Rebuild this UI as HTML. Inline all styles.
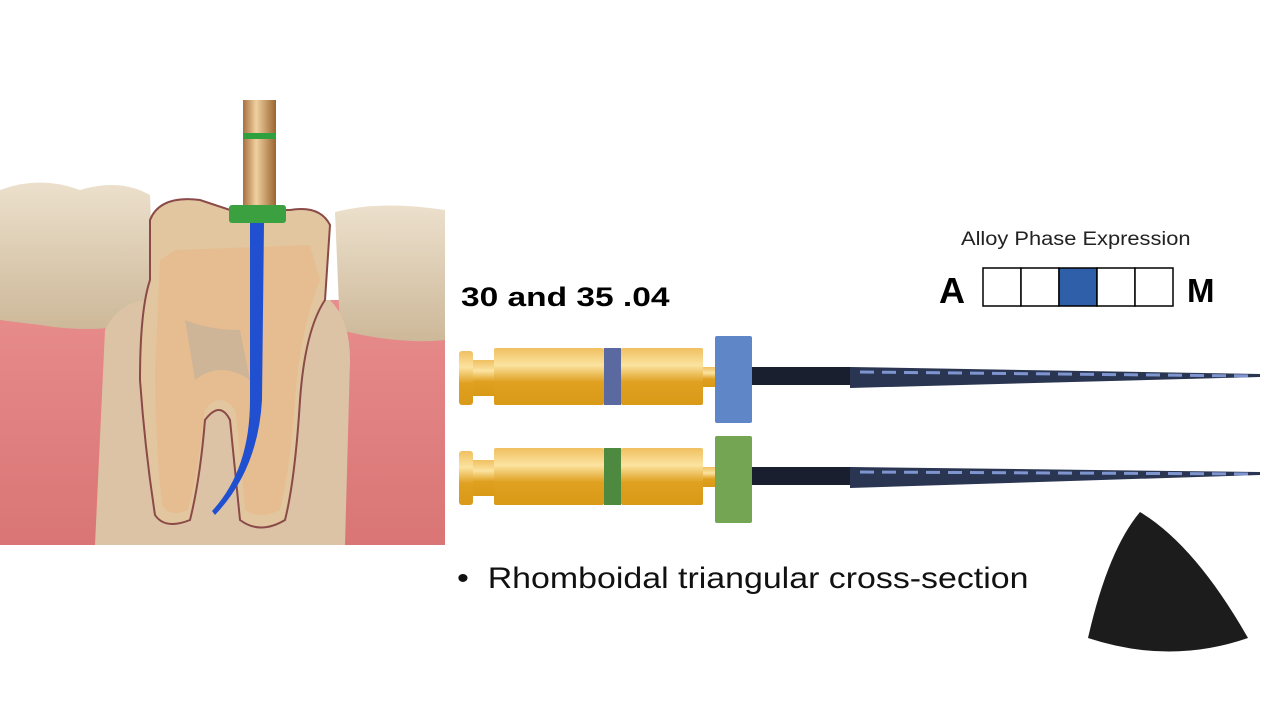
<!DOCTYPE html>
<html><head><meta charset="utf-8"><style>
body{margin:0;width:1280px;height:720px;background:#fff;overflow:hidden;position:relative;font-family:"Liberation Sans",sans-serif}
.t{position:absolute;white-space:nowrap;transform-origin:0 0}
</style></head><body>
<svg width="1280" height="720" style="position:absolute;left:0;top:0">
<defs>
<linearGradient id="gold" x1="0" y1="0" x2="0" y2="1"><stop offset="0" stop-color="#f0c060"/><stop offset=".3" stop-color="#fbe3a0"/><stop offset=".6" stop-color="#e0a020"/><stop offset="1" stop-color="#d99a18"/></linearGradient>
<linearGradient id="rod" x1="0" y1="0" x2="1" y2="0"><stop offset="0" stop-color="#a87040"/><stop offset=".4" stop-color="#f0d0a0"/><stop offset="1" stop-color="#9a6530"/></linearGradient>
<linearGradient id="gum" x1="0" y1="0" x2="0" y2="1"><stop offset="0" stop-color="#e88c8c"/><stop offset="1" stop-color="#d97575"/></linearGradient>
<linearGradient id="crown" x1="0" y1="0" x2="0" y2="1"><stop offset="0" stop-color="#ece0cc"/><stop offset="1" stop-color="#cdb899"/></linearGradient>
</defs>
<rect x="0" y="300" width="445" height="245" fill="url(#gum)"/>
<path d="M0 190 Q40 175 80 190 Q120 178 150 195 L155 320 Q100 335 40 325 Q15 322 0 320Z" fill="url(#crown)"/>
<path d="M335 212 Q380 200 445 210 L445 340 Q400 345 340 330Z" fill="url(#crown)"/>
<path d="M95 545 L105 330 Q120 300 150 300 L330 300 Q350 320 350 360 L345 545Z" fill="#dcc3a6"/>
<path d="M150 220 Q160 195 200 200 L230 210 L290 210 Q320 205 330 225 L325 300 Q305 330 300 400 Q295 480 285 520 Q260 535 240 520 Q235 470 230 420 Q220 400 205 420 Q200 480 190 520 Q165 530 155 515 Q145 450 140 380 Q140 310 150 280Z" fill="#e2c6a0" stroke="#8a4a48" stroke-width="2"/>
<path d="M160 260 L175 250 L310 245 L320 280 Q300 330 295 400 Q290 470 280 510 Q260 520 245 510 Q240 450 235 410 Q220 390 205 410 Q198 470 188 510 Q170 518 162 505 Q155 440 155 370Z" fill="#e8b98a" opacity=".7"/>
<path d="M185 320 Q210 330 240 330 L250 380 Q220 360 195 380Z" fill="#c9b398" opacity=".8"/>
<rect x="243" y="100" width="33" height="106" fill="url(#rod)"/>
<rect x="243" y="133" width="33" height="6" fill="#2fa040"/>
<rect x="229" y="205" width="57" height="18" rx="3" fill="#3aa040"/>
<path d="M250 223 L264 223 L262 400 Q258 470 215 515 L212 511 Q250 470 250 400Z" fill="#2050d0"/>
<g>
<rect x="459" y="351" width="14" height="54" rx="3" fill="url(#gold)"/>
<rect x="473" y="360" width="22" height="36" fill="url(#gold)"/>
<rect x="494" y="348" width="110" height="57" rx="2" fill="url(#gold)"/>
<rect x="604" y="348" width="17" height="57" fill="#5a6aa0"/>
<rect x="621" y="348" width="82" height="57" rx="2" fill="url(#gold)"/>
<rect x="703" y="367" width="12" height="20" fill="url(#gold)"/>
<rect x="715" y="336" width="37" height="87" rx="2" fill="#5f87c8"/>
<rect x="752" y="367" width="98" height="18" fill="#1a1f30"/>
<path d="M850 367 L1260 374 L1260 377 L850 388Z" fill="#2a3552"/>
<path d="M860 372 L1255 376" stroke="#7f95d0" stroke-width="3" stroke-dasharray="14 8"/>
</g>
<g transform="translate(0,100)">
<rect x="459" y="351" width="14" height="54" rx="3" fill="url(#gold)"/>
<rect x="473" y="360" width="22" height="36" fill="url(#gold)"/>
<rect x="494" y="348" width="110" height="57" rx="2" fill="url(#gold)"/>
<rect x="604" y="348" width="17" height="57" fill="#4d8a40"/>
<rect x="621" y="348" width="82" height="57" rx="2" fill="url(#gold)"/>
<rect x="703" y="367" width="12" height="20" fill="url(#gold)"/>
<rect x="715" y="336" width="37" height="87" rx="2" fill="#73a553"/>
<rect x="752" y="367" width="98" height="18" fill="#1a1f30"/>
<path d="M850 367 L1260 372 L1260 375 L850 388Z" fill="#2a3552"/>
<path d="M860 372 L1255 374" stroke="#7f95d0" stroke-width="3" stroke-dasharray="14 8"/>
</g>
<g stroke="#000" stroke-width="1.5" fill="#fff">
<rect x="983" y="268" width="38" height="38"/>
<rect x="1021" y="268" width="38" height="38"/>
<rect x="1059" y="268" width="38" height="38" fill="#2e5fa8"/>
<rect x="1097" y="268" width="38" height="38"/>
<rect x="1135" y="268" width="38" height="38"/>
</g>
<path d="M1140 512 Q1195 545 1248 638 Q1170 665 1088 638 Q1108 550 1140 512Z" fill="#1c1c1c"/>
</svg>
<div class="t" style="left:961px;top:229px;font-size:19px;color:#222;transform:scaleX(1.15)">Alloy Phase Expression</div>
<div class="t" style="left:939px;top:270px;font-size:36px;font-weight:bold">A</div>
<div class="t" style="left:1187px;top:272px;font-size:33px;font-weight:bold">M</div>
<div class="t" style="left:461px;top:282px;font-size:27px;font-weight:bold;transform:scaleX(1.24)">30 and 35 .04</div>
<div class="t" style="left:457px;top:562px;font-size:30px;color:#111;transform:scaleX(1.13)">•&nbsp; Rhomboidal triangular cross-section</div>
</body></html>
